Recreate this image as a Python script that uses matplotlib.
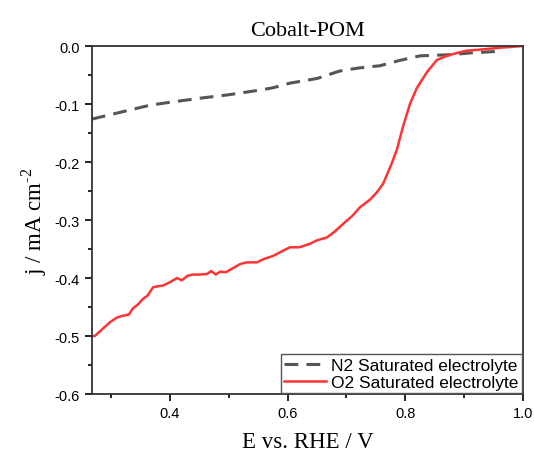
import numpy as np
import matplotlib.pyplot as plt
from matplotlib.ticker import MultipleLocator

plt.rcParams['axes.unicode_minus'] = False
plt.rcParams['mathtext.fontset'] = 'custom'
plt.rcParams['mathtext.rm'] = 'Liberation Serif'

# N2 saturated electrolyte (dashed)
n2_e = [0.267, 0.30, 0.366, 0.40, 0.451, 0.50, 0.553, 0.575, 0.604, 0.65, 0.689,
        0.72, 0.757, 0.79, 0.825, 0.85, 0.876, 0.91, 0.944, 0.961]
n2_j = [-0.126, -0.118, -0.102, -0.097, -0.090, -0.084, -0.076, -0.072, -0.064, -0.056, -0.043,
        -0.038, -0.034, -0.025, -0.017, -0.016, -0.015, -0.012, -0.010, -0.009]

# O2 saturated electrolyte (solid)
o2_e = [0.267, 0.272, 0.285, 0.298, 0.310, 0.320, 0.330, 0.337, 0.345, 0.354, 0.362, 0.371,
        0.380, 0.388, 0.400, 0.412, 0.420, 0.430, 0.439, 0.450, 0.463, 0.470, 0.478, 0.485,
        0.495, 0.507, 0.519, 0.530, 0.548, 0.560, 0.575, 0.592, 0.604, 0.620, 0.638, 0.650,
        0.667, 0.680, 0.694, 0.710, 0.723, 0.740, 0.752, 0.762, 0.769, 0.778, 0.786, 0.796,
        0.808, 0.820, 0.837, 0.854, 0.871, 0.888, 0.905, 0.930, 0.961, 1.0]
o2_j = [-0.500, -0.500, -0.488, -0.476, -0.468, -0.465, -0.463, -0.452, -0.446, -0.436, -0.430, -0.416,
        -0.414, -0.413, -0.407, -0.400, -0.404, -0.396, -0.394, -0.394, -0.393, -0.388, -0.394, -0.389,
        -0.390, -0.383, -0.376, -0.373, -0.373, -0.367, -0.362, -0.353, -0.347, -0.347, -0.341, -0.335,
        -0.330, -0.320, -0.307, -0.293, -0.278, -0.265, -0.252, -0.238, -0.222, -0.200, -0.178, -0.140,
        -0.100, -0.072, -0.045, -0.024, -0.017, -0.012, -0.008, -0.006, -0.003, 0.0]

fig = plt.figure(figsize=(5.34, 4.52), dpi=100)
ax = fig.add_axes([0.172, 0.126, 0.807, 0.770])

ax.plot(n2_e, n2_j, color='#555555', lw=2.2, dashes=(4.5, 2.7), label='N2 Saturated electrolyte')
ax.plot(o2_e, o2_j, color='#ff3333', lw=1.8, label='O2 Saturated electrolyte')

ax.set_xlim(0.267, 1.0)
ax.set_ylim(-0.6, 0.0)
ax.xaxis.set_major_locator(MultipleLocator(0.2))
ax.xaxis.set_minor_locator(MultipleLocator(0.1))
ax.yaxis.set_major_locator(MultipleLocator(0.1))
ax.yaxis.set_minor_locator(MultipleLocator(0.05))
ax.tick_params(which='major', direction='out', length=5, width=1.2, labelsize=10.5)
ax.tick_params(which='minor', direction='out', length=3, width=1.2)
for lab in ax.get_xticklabels() + ax.get_yticklabels():
    lab.set_fontfamily('Liberation Sans')
for s in ax.spines.values():
    s.set_linewidth(1.3)
    s.set_color('#333333')

ax.set_title('Cobalt-POM', fontfamily='Liberation Serif', fontsize=16, pad=8)
ax.set_xlabel('E vs. RHE / V', fontfamily='Liberation Serif', fontsize=16.5, labelpad=8)
ax.set_ylabel(r'j / mA cm$^{\text{-}2}$', fontfamily='Liberation Serif', fontsize=16.5, labelpad=4)

leg = ax.legend(loc='lower right', prop={'family': 'Liberation Sans', 'size': 12.5},
                fancybox=False, framealpha=1, edgecolor='#555555', borderpad=0.2,
                handlelength=2.4, handletextpad=0.3, labelspacing=0.1, borderaxespad=0.05)
leg.get_frame().set_linewidth(1.0)

fig.savefig('out.png', dpi=100)
